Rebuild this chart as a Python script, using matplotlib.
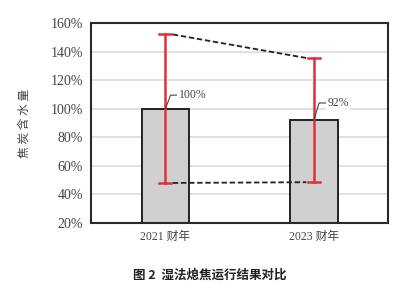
import matplotlib
matplotlib.use("Agg")
import matplotlib.pyplot as plt

# data
YEARS = ["2021 财年", "2023 财年"]
MEAN_PCT = [100, 92]
HIGH_PCT = [152, 135.5]
LOW_PCT = [48, 48.5]
LABELS = ["100%", "92%"]
LABEL_Y = [109.5, 104]
YTICKS = [20, 40, 60, 80, 100, 120, 140, 160]

CJK = ["Noto Sans CJK SC", "DejaVu Sans"]
SERIF = ["Liberation Serif", "Noto Sans CJK SC"]

fig = plt.figure(figsize=(4.2, 2.88), dpi=100)
ax = fig.add_axes([0.217, 0.226, 0.707, 0.694])

x = list(range(len(YEARS)))
ax.bar(x, [m - 20 for m in MEAN_PCT], bottom=20, width=0.32,
       color="#d0d0d0", edgecolor="#222222", linewidth=1.4, zorder=2)

# min / max range
for xi, lo, hi in zip(x, LOW_PCT, HIGH_PCT):
    ax.plot([xi, xi], [lo, hi], color="#e0303a", lw=1.8, zorder=3)
    for y in (lo, hi):
        ax.plot([xi - 0.04, xi + 0.04], [y, y], color="#e0303a", lw=1.8, zorder=3)

ax.plot([x[0] + 0.05, x[1] - 0.05], HIGH_PCT, ls="--", color="#222222", lw=1.3,
        dashes=(3, 1.5), zorder=3)
ax.plot([x[0] + 0.05, x[1] - 0.05], LOW_PCT, ls="--", color="#222222", lw=1.3,
        dashes=(3, 1.5), zorder=3)

# value labels with leader lines
for xi, m, lab, ly in zip(x, MEAN_PCT, LABELS, LABEL_Y):
    ax.plot([xi, xi + 0.035, xi + 0.085], [m, ly, ly], color="#444444", lw=0.8, zorder=4)
    ax.text(xi + 0.09, ly, lab, ha="left", va="center", fontsize=8.5,
            family=SERIF, color="#444444", zorder=5,
            bbox=dict(facecolor="white", edgecolor="none", pad=1.2))

ax.set_xlim(-0.5, 1.5)
ax.set_ylim(20, 160)
ax.set_yticks(YTICKS)
ax.set_yticklabels([f"{v}%" for v in YTICKS], family=SERIF, fontsize=10, color="#444444")
ax.set_xticks(x)
ax.set_xticklabels(YEARS, family=SERIF, fontsize=8.5, color="#444444")
ax.tick_params(length=0, pad=6)
ax.grid(axis="y", color="#dadada", lw=1.2, zorder=0)
ax.set_axisbelow(True)
for s in ax.spines.values():
    s.set_color("#2a2a2a")
    s.set_linewidth(1.5)

ax.set_ylabel("焦 炭 含 水 量", family=CJK, fontsize=8.5, color="#444444", labelpad=14)

fig.text(0.5, 0.045, "图 2  湿法熄焦运行结果对比", ha="center", va="center",
         family=CJK, fontsize=9, fontweight="bold", color="#222222")

fig.savefig("out.png", dpi=100)
